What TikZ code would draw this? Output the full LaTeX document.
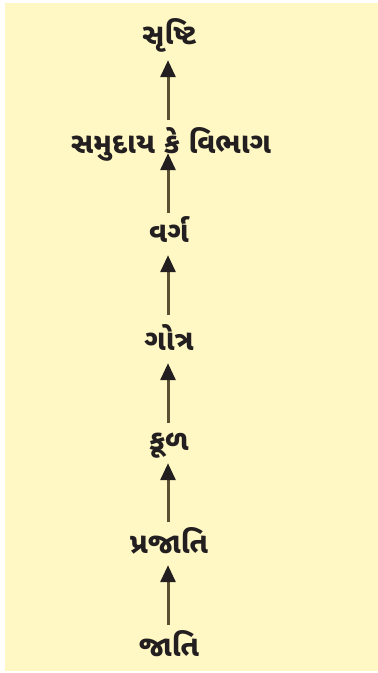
\documentclass[tikz,border=0pt]{standalone}
\usepackage{fontspec}
\newfontfamily\gujfont[Script=Gujarati]{Noto Sans Gujarati UI}
\usetikzlibrary{arrows.meta}
\definecolor{rankPaper}{HTML}{FFF8C4}
\definecolor{rankInk}{HTML}{231F20}
\definecolor{rankShaft}{HTML}{5A5032}

\begin{document}
\begin{tikzpicture}[
  x=1pt, y=-1pt,
  >={Triangle[length=17pt, width=15pt, color=rankInk]},
  rank/.style={font=\gujfont\bfseries\fontsize{29}{34}\selectfont, text=rankInk,
    anchor=base, inner sep=0pt, text height=18pt, text depth=0pt},
  climb/.style={->, line width=3pt, draw=rankShaft}
]
  \useasboundingbox (0,0) rectangle (378,673);
  \fill[rankPaper] (5,3) rectangle (378,671);

  % ranks, bottom to top
  \node[rank] (srushti)  at (169,44)  {સૃષ્ટિ};
  \node[rank] (samudaay) at (171,153) {સમુદાય કે વિભાગ};
  \node[rank] (varg)     at (169,242) {વર્ગ};
  \node[rank] (gotra)    at (169,350) {ગોત્ર};
  \node[rank] (kul)      at (169,450) {કૂળ};
  \node[rank] (prajati)  at (169,553) {પ્રજાતિ};
  \node[rank] (jati)     at (169,656) {જાતિ};

  \foreach \lo/\hi/\a/\b in {samudaay/srushti/15/16, varg/samudaay/11/0,
      gotra/varg/17/13, kul/gotra/9/13, prajati/kul/13/13, jati/prajati/13/12} {
    \draw[climb, shorten <=\a pt, shorten >=\b pt] (\lo.north -| 168,0) -- (\hi.south -| 168,0);
  }
\end{tikzpicture}
\end{document}
